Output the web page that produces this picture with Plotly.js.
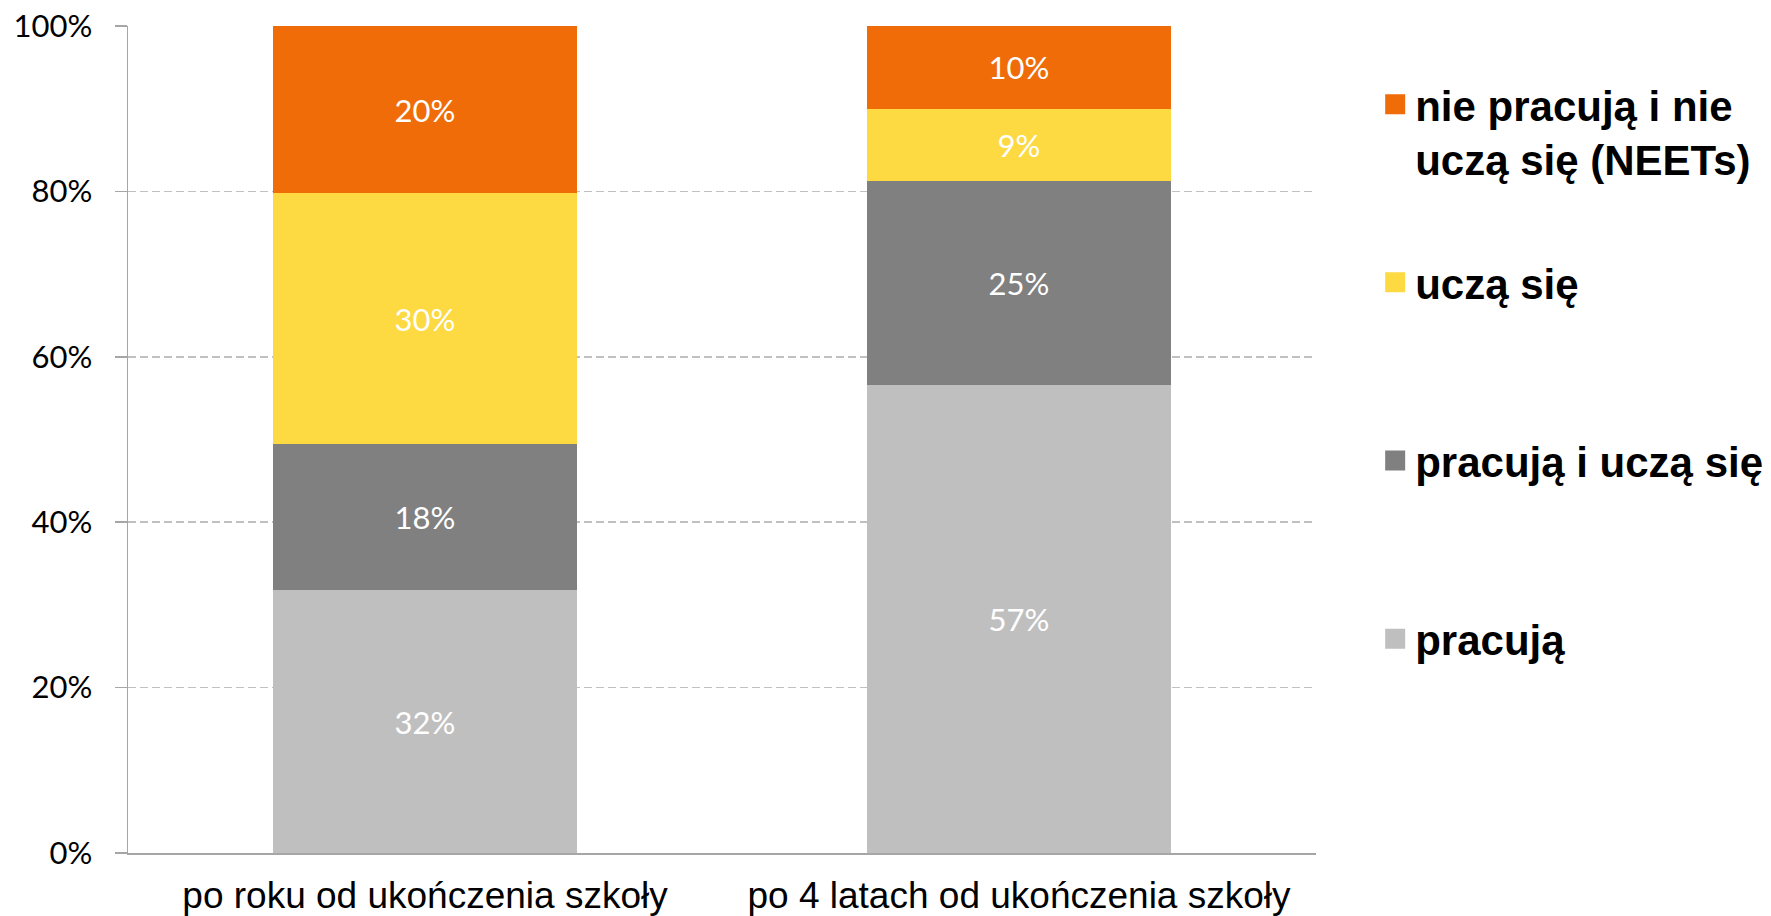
<!DOCTYPE html>
<html>
<head>
<meta charset="utf-8">
<script src="https://cdn.plot.ly/plotly-3.0.1.min.js"></script>
<style>
    html, body { margin: 0; padding: 0; background: #ffffff; }
    #chart { width: 1771px; height: 916px; }
</style>
</head>
<body>
<div id="chart"></div>
<script>
// Kategorie i wartości (w %)
const categories = ["po roku od ukończenia szkoły", "po 4 latach od ukończenia szkoły"];

const pracuja = [31.8, 56.6];
const pracujaIUczaSie = [17.6, 24.7];
const uczaSie = [30.4, 8.7];
const neets = [20.2, 10.0];

const seriesNames = [
    "pracują",
    "pracują i uczą się",
    "uczą się",
    "nie pracują i nie<br>uczą się (NEETs)"
];
const seriesValues = [pracuja, pracujaIUczaSie, uczaSie, neets];
const seriesColors = ["#bfbfbf", "#808080", "#fdd942", "#ef6c09"];

const yTicks = [0, 20, 40, 60, 80, 100];
const yTickLabels = ["0%", "20%", "40%", "60%", "80%", "100%"];


document.addEventListener("DOMContentLoaded", () => {
    renderChart();
});


function renderChart() {
    const barTraces = seriesValues.map((values, index) => {
        return {
            type: "bar",
            x: categories,
            y: values,
            name: seriesNames[index],
            showlegend: false,
            marker: {
                color: seriesColors[index],
                line: { width: 0 }
            },
            text: values.map(v => Math.round(v) + "%"),
            textposition: "inside",
            insidetextanchor: "middle",
            textangle: 0,
            textfont: {
                family: "Lato, 'Open Sans', sans-serif",
                size: 31,
                color: "#ffffff"
            },
            hoverinfo: "skip"
        };
    });

    // Legenda: od góry NEETs ... pracują, każdy wpis w osobnej grupie (odstępy)
    const legendTraces = [3, 2, 1, 0].map(index => {
        const name = seriesNames[index];
        const label = name.includes("<br>") ? name : name + "<br>\u00a0";
        return {
            type: "scatter",
            mode: "markers",
            x: [null],
            y: [null],
            name: label,
            legendgroup: "g" + index,
            showlegend: true,
            marker: {
                symbol: "square",
                size: 16,
                color: seriesColors[index],
                line: {
                    width: 4,
                    color: seriesColors[index]
                }
            },
            hoverinfo: "skip"
        };
    });

    const layout = {
        width: 1771,
        height: 916,
        barmode: "stack",
        bargap: 0.488,
        paper_bgcolor: "#ffffff",
        plot_bgcolor: "#ffffff",
        margin: {
            l: 128,
            r: 455,
            t: 26,
            b: 63
        },
        xaxis: {
            type: "category",
            showgrid: false,
            showline: true,
            linecolor: "#a6a6a6",
            linewidth: 1.5,
            ticks: "",
            ticklabelstandoff: 9,
            tickfont: {
                family: "'Liberation Sans', Arial, sans-serif",
                size: 37,
                color: "#000000"
            },
            fixedrange: true
        },
        yaxis: {
            range: [0, 100],
            tickvals: yTicks,
            ticktext: yTickLabels,
            showgrid: true,
            gridcolor: "#c0c0c0",
            gridwidth: 1.5,
            griddash: "8px,4px",
            zeroline: false,
            showline: true,
            linecolor: "#a6a6a6",
            linewidth: 1.5,
            ticks: "outside",
            ticklen: 12,
            tickwidth: 1.5,
            tickcolor: "#a6a6a6",
            ticklabelstandoff: 16,
            tickfont: {
                family: "Lato, 'Open Sans', sans-serif",
                size: 31,
                color: "#000000"
            },
            fixedrange: true
        },
        showlegend: true,
        legend: {
            xref: "container",
            yref: "container",
            x: 0.7765,
            y: 0.9232,
            xanchor: "left",
            yanchor: "top",
            traceorder: "grouped",
            tracegroupgap: 66,
            valign: "top",
            maxheight: 880,
            bgcolor: "rgba(0,0,0,0)",
            font: {
                family: "'Liberation Sans', Arial, sans-serif",
                size: 42,
                weight: "bold",
                color: "#000000"
            }
        }
    };

    Plotly.newPlot(
        "chart",
        [...barTraces, ...legendTraces],
        layout,
        {
            displayModeBar: false,
            staticPlot: true
        }
    );
}
</script>
</body>
</html>
